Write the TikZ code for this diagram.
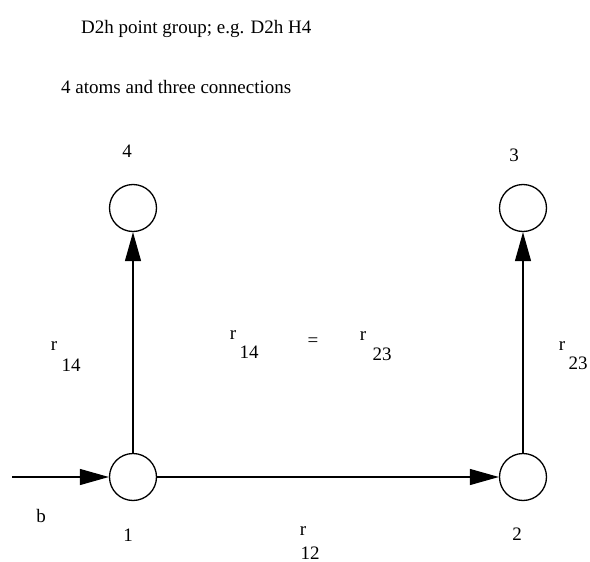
\documentclass[tikz,border=0pt]{standalone}
\usepackage{fontspec}
\setmainfont{Liberation Serif}
\usetikzlibrary{arrows.meta}
\begin{document}
\begin{tikzpicture}[x=1pt,y=-1pt,
  atom/.style={circle,draw,line width=1.3pt,minimum size=47pt,inner sep=0pt},
  conn/.style={line width=1.3pt,-{Triangle[length=29pt,width=16pt]}},
  lbl/.style={inner sep=0pt,font=\fontsize{19}{21}\selectfont},
  ttl/.style={inner sep=0pt,anchor=base west,font=\fontsize{19}{21}\selectfont}]
\useasboundingbox (0,0) rectangle (590,562);
\node[ttl] (t1) at (81,34) {D2h point group; e.g. D2h H4};
\node[ttl] (t2) at (61,93) {4 atoms and three connections};
\node[atom] (n1) at (133,477) {};
\node[atom] (n2) at (523,477) {};
\node[atom] (n3) at (523,208) {};
\node[atom] (n4) at (133,208) {};
\coordinate (bs) at (12,477);
\draw[conn] (bs) -- (n1);
\draw[conn] (n1) -- (n2);
\draw[conn] (n1) -- (n4);
\draw[conn] (n2) -- (n3);
\node[lbl] (l4) at (127,151) {4};
\node[lbl] (l3) at (514,155) {3};
\node[lbl] (l1) at (128,535) {1};
\node[lbl] (l2) at (517,534) {2};
\node[lbl] (lb) at (41,516) {b};
\node[lbl] (ra) at (54,346) {r};
\node[lbl] (sa) at (71,365) {14};
\node[lbl] (rb) at (233,335) {r};
\node[lbl] (sb) at (249,352) {14};
\node[lbl] (eq) at (313,342) {=};
\node[lbl] (rc) at (363,336) {r};
\node[lbl] (sc) at (382,354) {23};
\node[lbl] (rd) at (562,346) {r};
\node[lbl] (sd) at (578,363) {23};
\node[lbl] (re) at (303,531) {r};
\node[lbl] (se) at (310,553) {12};
\end{tikzpicture}
\end{document}
